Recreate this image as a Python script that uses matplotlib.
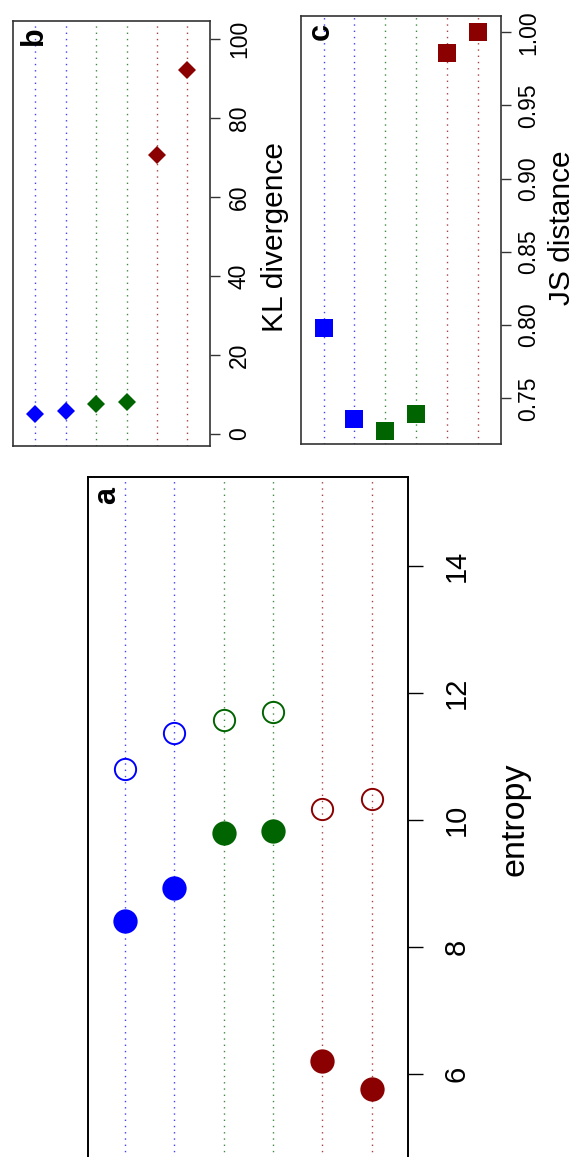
import matplotlib
matplotlib.use('Agg')
import matplotlib.pyplot as plt
from matplotlib.ticker import FormatStrFormatter

plt.rcParams['font.family'] = ['Liberation Sans', 'DejaVu Sans']

# ---------------- data ----------------
rows = [1, 2, 3, 4, 5, 6]
row_colors = ['#0000FF', '#0000FF', '#006400', '#006400', '#8B0000', '#8B0000']
entropy_filled = [8.41, 8.93, 9.79, 9.83, 6.20, 5.77]
entropy_open = [10.81, 11.37, 11.58, 11.71, 10.18, 10.34]
kl_divergence = [5.1, 5.9, 7.6, 8.1, 70.5, 92.2]
js_distance = [0.798, 0.736, 0.728, 0.739, 0.986, 1.000]
entropy_ticks = [6, 8, 10, 12, 14]
kl_ticks = [0, 20, 40, 60, 80, 100]
js_ticks = [0.75, 0.80, 0.85, 0.90, 0.95, 1.00]

W, H = 577, 1157
fig = plt.figure(figsize=(W / 100, H / 100), dpi=100)


def box(l, t, r, b):
    return [l / W, 1 - b / H, (r - l) / W, (b - t) / H]


ax_a = fig.add_axes(box(88.3, 477.3, 408.3, 1163))
ax_b = fig.add_axes(box(12.7, 20.7, 210, 445.7))
ax_c = fig.add_axes(box(300.7, 15.7, 501, 444.3))


def style(ax, ylim, ticks, fmt, edge, lw, ticklen, fs, pad):
    ax.set_xlim(0.26, 6.74)
    ax.set_ylim(*ylim)
    for x, c in zip(rows, row_colors):
        ax.axvline(x, color=c, lw=1.0, ls=(0, (1, 3.5)), alpha=0.75, zorder=1)
    ax.set_xticks([])
    ax.yaxis.tick_right()
    ax.set_yticks(ticks)
    ax.yaxis.set_major_formatter(FormatStrFormatter(fmt))
    ax.tick_params(axis='y', direction='out', length=ticklen, width=1.0,
                   pad=pad, labelsize=fs, labelrotation=90, color=edge)
    for t in ax.yaxis.get_major_ticks():
        t.label2.set_va('center')
    for s in ax.spines.values():
        s.set_linewidth(lw)
        s.set_color(edge)


def ylabel(ax, text, x, y, fs):
    ax.yaxis.set_label_position('right')
    ax.set_ylabel(text, fontsize=fs)
    ax.yaxis.set_label_coords(x / W, 1 - y / H, transform=fig.transFigure)
    ax.yaxis.label.set_va('baseline')
    ax.yaxis.label.set_ha('center')


def letter(text, x, y, fs):
    fig.text(x / W, 1 - y / H, text, fontsize=fs, fontweight='bold',
             rotation=90, rotation_mode='anchor', ha='center', va='baseline')


# panel a
style(ax_a, (4.6, 15.4), entropy_ticks, '%d', 'black', 1.4, 10.8, 21, 14.0)
for x, c, vf, vo in zip(rows, row_colors, entropy_filled, entropy_open):
    ax_a.plot([x], [vf], 'o', color=c, ms=17.5, mew=0, zorder=3)
    ax_a.plot([x], [vo], 'o', mfc='none', mec=c, ms=15.3, mew=1.4, zorder=3)
ylabel(ax_a, 'entropy', 523, 819, 24.5)
letter('a', 115, 495.7, 22)

# panel b
style(ax_b, (-3.0, 104.6), kl_ticks, '%d', '#333333', 1.2, 7.2, 16.5, 5.6)
for x, c, v in zip(rows, row_colors, kl_divergence):
    ax_b.plot([x], [v], 'D', color=c, ms=8.9, mew=0, zorder=3)
ylabel(ax_b, 'KL divergence', 282.7, 237, 21.5)
letter('b', 41.7, 35.8, 22)

# panel c
style(ax_c, (0.7186, 1.0113), js_ticks, '%.2f', '#333333', 1.2, 7.2, 16.5, 4.4)
for x, c, v in zip(rows, row_colors, js_distance):
    ax_c.plot([x], [v], 's', color=c, ms=13, mew=0, zorder=3)
ylabel(ax_c, 'JS distance', 570, 227.5, 21.5)
letter('c', 328.3, 31.7, 22)

fig.savefig('out.png', dpi=100)
